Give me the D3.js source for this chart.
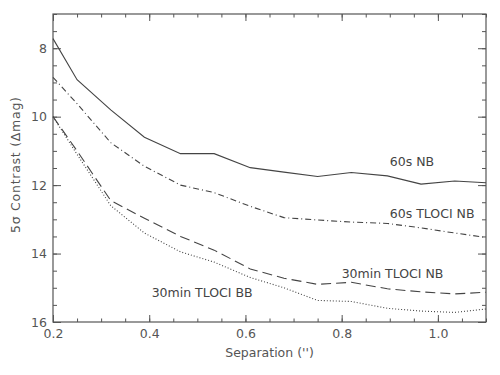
<!DOCTYPE html>
<html>
<head>
<meta charset="utf-8">
<script src="https://cdn.jsdelivr.net/npm/d3@7"></script>
<style>
  body { margin: 0; background: #fff; }
  text { font-family: "DejaVu Sans", sans-serif; fill: #555; }
</style>
</head>
<body>
<script>
// separation in arcsec, shared by all curves
var separation = [0.2, 0.25, 0.32, 0.39, 0.465, 0.535, 0.61, 0.68, 0.75, 0.82, 0.895, 0.965, 1.035, 1.1];
// 5 sigma contrast in delta mag
var nb60 = [7.72, 8.92, 9.8, 10.6, 11.08, 11.08, 11.49, 11.62, 11.75, 11.63, 11.73, 11.97, 11.88, 11.93];
var tloci60 = [8.85, 9.62, 10.76, 11.45, 12.0, 12.22, 12.62, 12.95, 13.02, 13.08, 13.12, 13.25, 13.4, 13.53];
var tloci30nb = [10.0, 11.0, 12.45, 12.97, 13.5, 13.9, 14.45, 14.72, 14.9, 14.84, 15.03, 15.12, 15.18, 15.13];
var tloci30bb = [10.0, 11.1, 12.6, 13.4, 13.95, 14.25, 14.7, 15.0, 15.37, 15.4, 15.6, 15.68, 15.72, 15.62];

var seriesNames = ["60s NB", "60s TLOCI NB", "30min TLOCI NB", "30min TLOCI BB"];
var seriesValues = [nb60, tloci60, tloci30nb, tloci30bb];
var dashes = [null, "6,3,1,3", "10,5", "1,2"];
// label anchor: separation and contrast where the text starts
var labelAt = [[0.9, 11.45], [0.9, 12.96], [0.8, 14.72], [0.405, 15.28]];

var xMajor = [0.2, 0.4, 0.6, 0.8, 1.0];
var yMajor = [8, 10, 12, 14, 16];

var margin = {top: 14, right: 14, bottom: 53, left: 53};
var W = 500, H = 375;
var w = W - margin.left - margin.right,
    h = H - margin.top - margin.bottom;

var x = d3.scaleLinear().domain([0.2, 1.1]).range([0, w]);
var y = d3.scaleLinear().domain([7, 16]).range([0, h]);

var svg = d3.select("body").append("svg")
    .attr("width", W).attr("height", H)
  .append("g")
    .attr("transform", "translate(" + margin.left + "," + margin.top + ")");

var xMinor = d3.range(0.2, 1.1001, 0.05).map(function (d) { return +d.toFixed(2) });
var yMinor = d3.range(7, 16.001, 0.5);

function tickStyle(g) {
  g.select(".domain").remove();
  g.selectAll("line").attr("stroke", "#555").attr("stroke-width", 1);
  g.selectAll("text").attr("font-size", 12.5).style("fill", "#555");
}

// bottom
svg.append("g").attr("transform", "translate(0," + h + ")")
  .call(d3.axisBottom(x).tickValues(xMinor).tickFormat("").tickSize(-3.5)).call(tickStyle);
svg.append("g").attr("transform", "translate(0," + h + ")")
  .call(d3.axisBottom(x).tickValues(xMajor).tickFormat(d3.format(".1f")).tickSize(-7).tickPadding(7)).call(tickStyle);
// top
svg.append("g")
  .call(d3.axisTop(x).tickValues(xMinor).tickFormat("").tickSize(-3.5)).call(tickStyle);
svg.append("g")
  .call(d3.axisTop(x).tickValues(xMajor).tickFormat("").tickSize(-7)).call(tickStyle);
// left
svg.append("g")
  .call(d3.axisLeft(y).tickValues(yMinor).tickFormat("").tickSize(-4)).call(tickStyle);
svg.append("g")
  .call(d3.axisLeft(y).tickValues(yMajor).tickFormat(d3.format("d")).tickSize(-8).tickPadding(6)).call(tickStyle);
// right
svg.append("g").attr("transform", "translate(" + w + ",0)")
  .call(d3.axisRight(y).tickValues(yMinor).tickFormat("").tickSize(-4)).call(tickStyle);
svg.append("g").attr("transform", "translate(" + w + ",0)")
  .call(d3.axisRight(y).tickValues(yMajor).tickFormat("").tickSize(-8)).call(tickStyle);

// frame
svg.append("rect")
  .attr("width", w).attr("height", h)
  .attr("fill", "none").attr("stroke", "#555").attr("stroke-width", 1.2);

// curves
var line = d3.line()
  .x(function (d) { return x(d[0]) })
  .y(function (d) { return y(d[1]) });

seriesValues.forEach(function (vals, i) {
  var pts = separation.map(function (s, j) { return [s, vals[j]] });
  svg.append("path")
    .datum(pts)
    .attr("d", line)
    .attr("fill", "none")
    .attr("stroke", "#444")
    .attr("stroke-width", 1.1)
    .attr("stroke-dasharray", dashes[i]);
  svg.append("text")
    .attr("x", x(labelAt[i][0]))
    .attr("y", y(labelAt[i][1]))
    .attr("font-size", 12.5)
    .style("fill", "#444")
    .text(seriesNames[i]);
});

// axis titles
svg.append("text")
  .attr("x", w / 2).attr("y", h + 35)
  .attr("text-anchor", "middle")
  .attr("font-size", 12.5)
  .text("Separation ('')");

svg.append("text")
  .attr("transform", "rotate(-90)")
  .attr("x", -151).attr("y", -33)
  .attr("text-anchor", "middle")
  .attr("font-size", 12.5)
  .attr("textLength", 136)
  .attr("lengthAdjust", "spacing")
  .text("5σ Contrast (Δmag)");
</script>
</body>
</html>
